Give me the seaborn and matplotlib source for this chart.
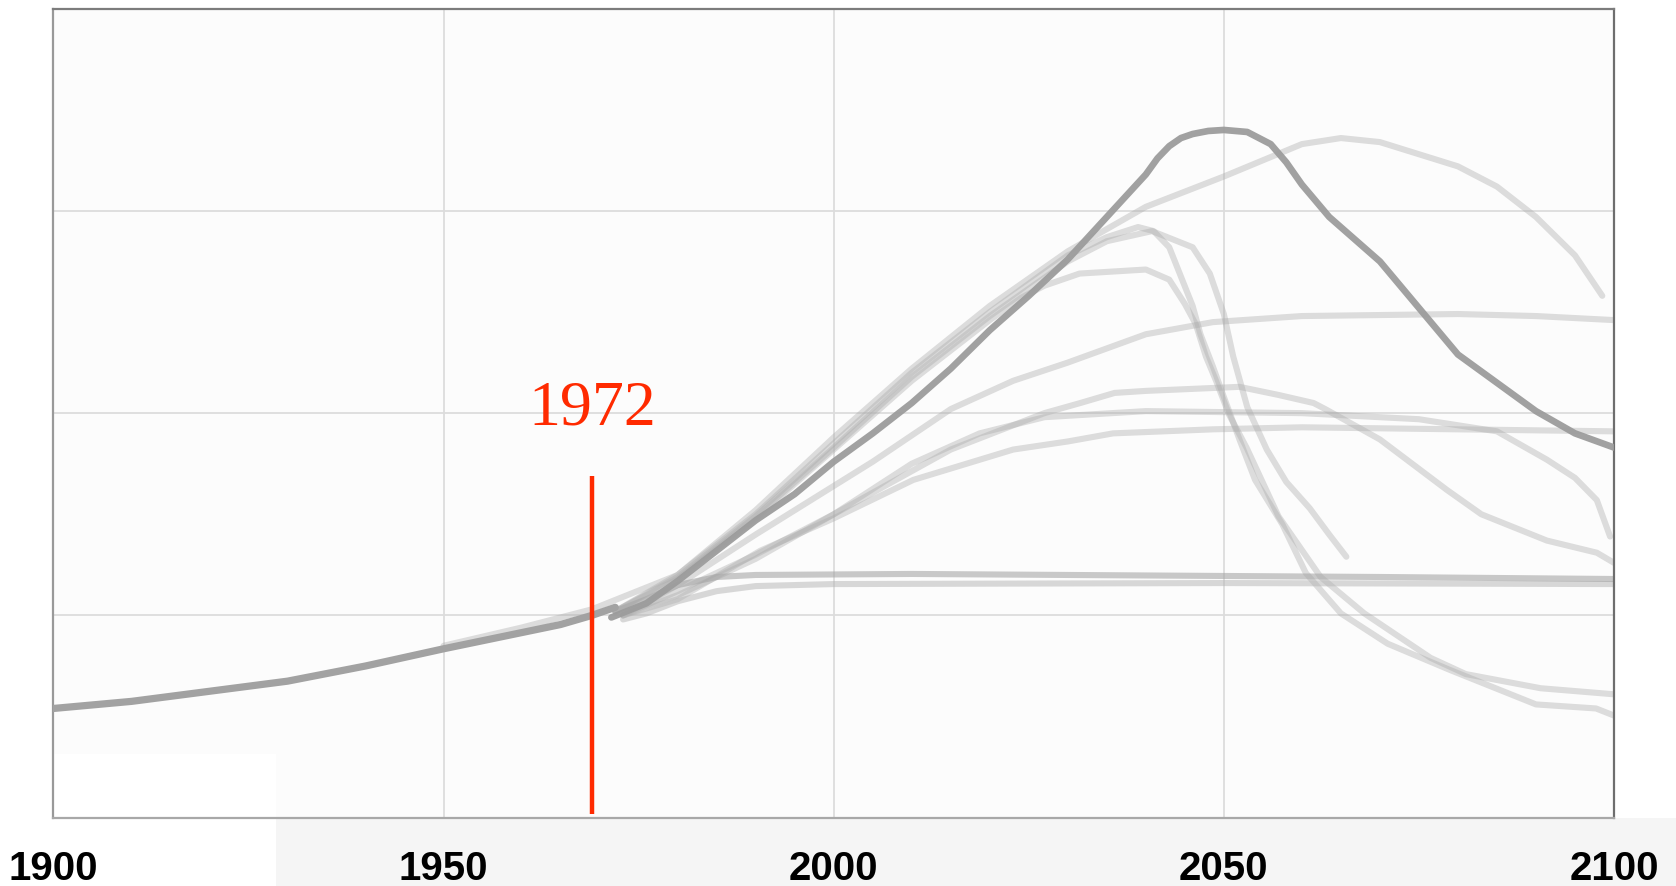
## ***************************************************************************
## * LIBRARIES                                                               *
## ***************************************************************************
import pandas as pd
import matplotlib.pyplot as plt
import matplotlib as mpl
import seaborn as sns
from matplotlib.patches import Rectangle


## ***************************************************************************
## * DATA (arbitrary vertical units 0-4)               *
## ***************************************************************************
hist_years = [1900, 1910, 1920, 1930, 1940, 1950, 1955, 1960, 1965, 1969, 1972]
hist_vals = [0.54, 0.575, 0.625, 0.675, 0.75, 0.835, 0.875, 0.915, 0.955, 1.0, 1.04]

bau_years = [1971.5, 1976, 1980, 1985, 1990, 1995, 2000, 2005, 2010, 2015, 2020, 2025,
             2030, 2035, 2040, 2041.5, 2043, 2044.5, 2046, 2048, 2050, 2053, 2056, 2058,
             2060, 2063.5, 2070, 2075, 2080, 2085, 2090, 2095, 2100]
bau_vals = [0.99, 1.06, 1.17, 1.32, 1.47, 1.60, 1.76, 1.90, 2.05, 2.22, 2.41, 2.58,
            2.76, 2.97, 3.18, 3.26, 3.32, 3.36, 3.38, 3.395, 3.40, 3.39, 3.33, 3.24,
            3.13, 2.97, 2.75, 2.52, 2.29, 2.15, 2.01, 1.90, 1.83]

# flat scenarios around 1.2
flat1_years = [1972, 1976, 1980, 1985, 1990, 2010, 2030, 2050, 2070, 2100]
flat1_vals = [1.02, 1.08, 1.15, 1.19, 1.20, 1.205, 1.20, 1.195, 1.19, 1.18]
flat2_years = [1973, 1976, 1980, 1985, 1990, 2000, 2050, 2100]
flat2_vals = [0.98, 1.01, 1.07, 1.12, 1.145, 1.155, 1.16, 1.155]

# light scenario runs
scen = {
    'T': ([1950, 1960, 1969, 1980, 1990, 2000, 2010, 2020, 2030, 2040, 2050, 2060,
           2065, 2070, 2080, 2085, 2090, 2095, 2098.5],
          [0.85, 0.94, 1.03, 1.20, 1.52, 1.88, 2.22, 2.53, 2.80, 3.02, 3.17, 3.33,
           3.36, 3.34, 3.22, 3.12, 2.97, 2.78, 2.58]),
    'A': ([1972, 1980, 1990, 2000, 2010, 2020, 2030, 2035, 2039, 2041, 2043, 2046,
           2047, 2048.6, 2050, 2052, 2054, 2057.5, 2060.5, 2065, 2071, 2079, 2090,
           2097.7, 2100],
          [1.02, 1.20, 1.50, 1.85, 2.20, 2.50, 2.78, 2.87, 2.92, 2.90, 2.82, 2.53,
           2.39, 2.23, 2.08, 1.87, 1.67, 1.45, 1.21, 1.01, 0.86, 0.73, 0.56,
           0.54, 0.505]),
    'B': ([1972, 1980, 1990, 2000, 2010, 2020, 2030, 2035, 2040.8, 2046, 2048.2,
           2050, 2051.2, 2053, 2055.5, 2058, 2061, 2063.5, 2065.7],
          [1.02, 1.19, 1.49, 1.83, 2.18, 2.48, 2.75, 2.85, 2.90, 2.82, 2.69,
           2.49, 2.28, 2.03, 1.82, 1.66, 1.53, 1.40, 1.29]),
    'C': ([1972, 1980, 1990, 2000, 2010, 2020, 2024, 2027, 2031.5, 2040, 2043, 2045,
           2046.4, 2047.7, 2049, 2050.7, 2052.9, 2057, 2062.4, 2068, 2076.5, 2081,
           2090.6, 2100],
          [1.02, 1.18, 1.48, 1.82, 2.16, 2.46, 2.57, 2.63, 2.69, 2.71, 2.66, 2.54,
           2.44, 2.28, 2.16, 1.99, 1.83, 1.49, 1.19, 1.01, 0.79, 0.71,
           0.64, 0.61]),
    'D': ([1973, 1980, 1990, 2000, 2005, 2015, 2023, 2030, 2040, 2048.6, 2060, 2080,
           2090, 2100],
          [1.0, 1.15, 1.40, 1.64, 1.76, 2.02, 2.16, 2.25, 2.39, 2.45, 2.48, 2.49,
           2.48, 2.46]),
    'E': ([1973, 1980, 1990, 2000, 2015, 2027, 2031.6, 2036, 2040, 2052, 2057,
           2061.5, 2063, 2070, 2078.6, 2083, 2091.4, 2097.8, 2100],
          [1.0, 1.12, 1.30, 1.50, 1.82, 2.00, 2.05, 2.10, 2.11, 2.13, 2.09,
           2.05, 2.02, 1.87, 1.62, 1.50, 1.37, 1.31, 1.26]),
    'F': ([1973, 1980, 1990, 2000, 2010, 2018.7, 2027, 2040, 2060, 2075, 2085,
           2091.4, 2095, 2097.8, 2099.5],
          [1.0, 1.10, 1.28, 1.50, 1.75, 1.90, 1.98, 2.01, 2.0, 1.97, 1.91,
           1.77, 1.68, 1.57, 1.39]),
    'G': ([1973, 1980, 1990.6, 2000, 2010.2, 2023, 2030, 2035.8, 2048.6, 2060, 2100],
          [1.0, 1.08, 1.32, 1.48, 1.67, 1.82, 1.86, 1.90, 1.92, 1.93, 1.91]),
}

MARKER_YEAR = 1969          # where the red line sits in the picture
MARKER_LABEL = '1972'
x_ticks = [1900, 1950, 2000, 2050, 2100]

rows = []
for name, (yrs, vals) in scen.items():
    for yr, v in zip(yrs, vals):
        rows.append(dict(scenario=name, year=yr, value=v))
dfLight = pd.DataFrame(rows)


## ***************************************************************************
## * KEY PLOTING PARAMETERS                                                  *
## ***************************************************************************
sns.set_style('white')
mpl.rcParams['font.family'] = ['Liberation Sans Narrow', 'Liberation Sans', 'DejaVu Sans']
mpl.rcParams['lines.solid_capstyle'] = 'round'
mpl.rcParams['lines.solid_joinstyle'] = 'round'


## ***************************************************************************
## * FIGURE                                                                  *
## ***************************************************************************
plt.close('all')
fig = plt.figure(figsize=(16.76, 8.86), dpi=100, facecolor='white')
ax = fig.add_axes([0.0319, 0.0771, 0.9311, 0.9132])
ax.set_facecolor('#fcfcfc')

# light grey strip under the right part of the axis (screen-shot artefact)
fig.patches.append(Rectangle((0.1646, 0), 1 - 0.1646, 0.0771, transform=fig.transFigure,
                             facecolor='#f5f5f5', edgecolor='none', zorder=-10))
ax.add_patch(Rectangle((1900, 0), 28.5, 0.317, facecolor='white', edgecolor='none', zorder=0.5))

sns.lineplot(data=dfLight, x='year', y='value', units='scenario', estimator=None,
             sort=False, color='#acacac', alpha=0.4, linewidth=4.4, ax=ax, zorder=2)

sns.lineplot(x=flat2_years, y=flat2_vals, color='#b4b4b4', alpha=0.5, linewidth=4.4,
             ax=ax, zorder=2)
sns.lineplot(x=flat1_years, y=flat1_vals, color='#a6a6a6', alpha=0.6, linewidth=4.4,
             ax=ax, zorder=2)
sns.lineplot(x=hist_years, y=hist_vals, color='#a2a2a2', linewidth=5.2, ax=ax, zorder=3)
sns.lineplot(x=bau_years, y=bau_vals, color='#9c9c9c', alpha=0.95, linewidth=4.8,
             ax=ax, zorder=3)

# red 1972 marker
ax.vlines(MARKER_YEAR, 0.016, 1.69, color='#ff2a00', linewidth=3.2, zorder=5)
ax.text(MARKER_YEAR, 2.02, MARKER_LABEL, color='#ff2a00', fontsize=46,
        family=['Liberation Serif', 'DejaVu Serif'], ha='center', va='center', zorder=5)

ax.set_xlim(1900, 2100)
ax.set_ylim(0, 4)
ax.set_xticks(x_ticks)
ax.set_xticklabels([str(t) for t in x_ticks], fontsize=29, fontweight='bold', color='black')
ax.set_yticks([1, 2, 3])
ax.set_yticklabels([])
ax.tick_params(axis='both', length=0, pad=23)
ax.grid(True, color='#dcdcdc', linewidth=1.3, zorder=0)
ax.set_axisbelow(True)
for side, col in [('left', '#999999'), ('bottom', '#a8a8a8'), ('top', '#7c7c7c'), ('right', '#6e6e6e')]:
    ax.spines[side].set_visible(True)
    ax.spines[side].set_color(col)
    ax.spines[side].set_linewidth(1.6)

ax.set_xlabel(None)
ax.set_ylabel(None)
if ax.get_legend() is not None:
    ax.get_legend().remove()

fig.savefig('out.png', dpi=100, facecolor=fig.get_facecolor())
